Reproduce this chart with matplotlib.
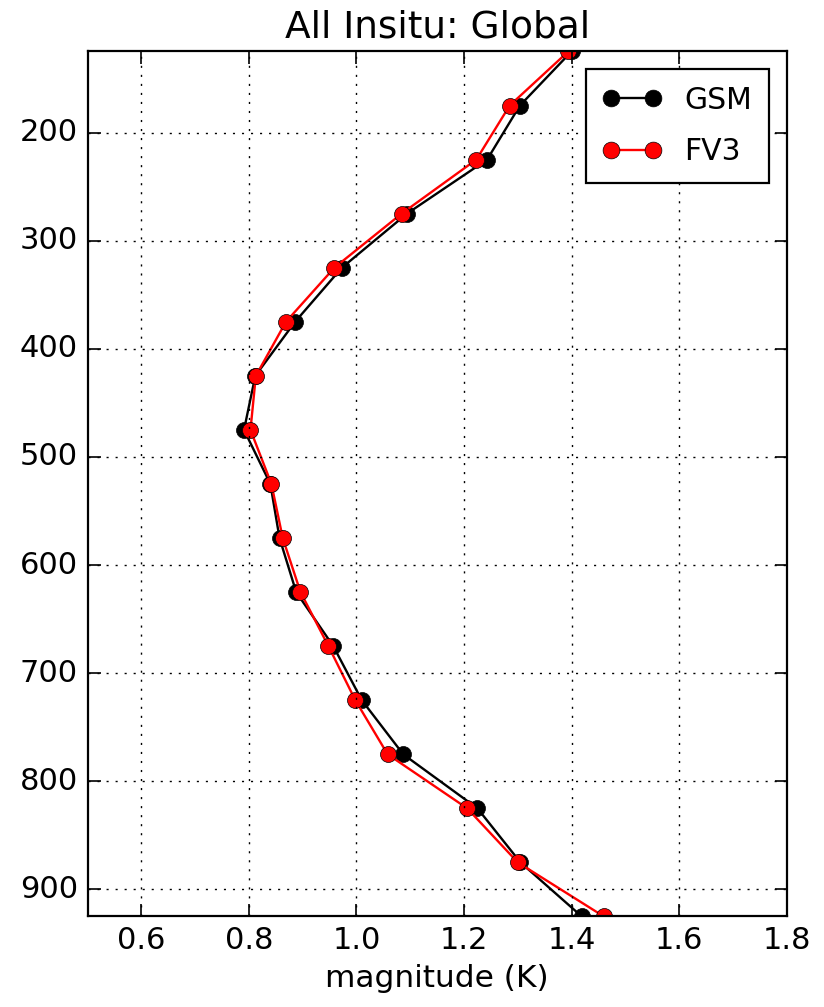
import matplotlib
matplotlib.use("Agg")
import matplotlib.pyplot as plt

plt.style.use("classic")

levels = [125, 175, 225, 275, 325, 375, 425, 475, 525, 575, 625, 675, 725, 775, 825, 875, 925]
gsm = [1.40, 1.304, 1.243, 1.094, 0.973, 0.886, 0.812, 0.791, 0.840, 0.857, 0.888, 0.957, 1.010, 1.087, 1.225, 1.305, 1.419]
fv3 = [1.394, 1.285, 1.223, 1.084, 0.959, 0.869, 0.813, 0.803, 0.842, 0.863, 0.896, 0.948, 0.998, 1.058, 1.206, 1.300, 1.460]
series_names = ["GSM", "FV3"]
title = "All Insitu: Global"
xlabel = "magnitude (K)"
yticks = [200, 300, 400, 500, 600, 700, 800, 900]
xticks = [0.6, 0.8, 1.0, 1.2, 1.4, 1.6, 1.8]

fig = plt.figure(figsize=(8.24, 10.07), dpi=100, facecolor="white")
ax = fig.add_axes([0.1062, 0.0899, 0.8485, 0.859])

ax.plot(gsm, levels, "-o", color="black", markerfacecolor="black", markeredgecolor="black",
        markersize=11.5, linewidth=1.7, label=series_names[0])
ax.plot(fv3, levels, "-o", color="red", markerfacecolor="red", markeredgecolor="black",
        markersize=11.5, linewidth=1.7, label=series_names[1])

ax.set_xlim(0.5, 1.8)
ax.set_ylim(925, 125)
ax.set_xticks(xticks)
ax.set_yticks(yticks)
ax.grid(True, linestyle=(0, (1.5, 5)), color="black", linewidth=1.0)
ax.tick_params(labelsize=22, direction="in", length=9, width=1.2, pad=7)
for s in ax.spines.values():
    s.set_linewidth(1.6)

ax.set_title(title, fontsize=27, pad=10)
ax.set_xlabel(xlabel, fontsize=22.5, labelpad=6)

leg = ax.legend(loc="upper right", numpoints=2, fontsize=21.5, fancybox=False,
                borderaxespad=0.6, handlelength=2.0, markerscale=1.05,
                labelspacing=0.75, borderpad=0.55, handletextpad=0.75)
leg.get_frame().set_edgecolor("black")
leg.get_frame().set_linewidth(1.6)

fig.savefig("out.png", dpi=100, facecolor="white")
